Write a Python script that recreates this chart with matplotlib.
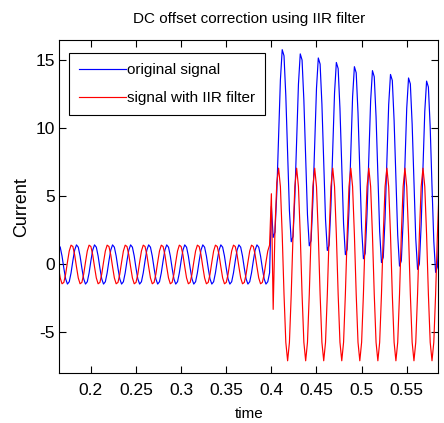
import numpy as np
import matplotlib.pyplot as plt

plt.rcParams['font.family'] = ['Liberation Sans', 'DejaVu Sans']
plt.rcParams['axes.unicode_minus'] = False

# sampling of the recorded current (s)
t_start = 0.164
t_step = 0.002

# original signal before the fault (steady 50 Hz)
orig_before = [
    1.44, 1.27, 0.62, -0.27, -1.06, -1.44, -1.27, -0.62, 0.27, 1.06,
    1.44, 1.27, 0.62, -0.27, -1.06, -1.44, -1.27, -0.62, 0.27, 1.06,
    1.44, 1.27, 0.62, -0.27, -1.06, -1.44, -1.27, -0.62, 0.27, 1.06,
    1.44, 1.27, 0.62, -0.27, -1.06, -1.44, -1.27, -0.62, 0.27, 1.06,
    1.44, 1.27, 0.62, -0.27, -1.06, -1.44, -1.27, -0.62, 0.27, 1.06,
    1.44, 1.27, 0.62, -0.27, -1.06, -1.44, -1.27, -0.62, 0.27, 1.06,
    1.44, 1.27, 0.62, -0.27, -1.06, -1.44, -1.27, -0.62, 0.27, 1.06,
    1.44, 1.27, 0.62, -0.27, -1.06, -1.44, -1.27, -0.62, 0.27, 1.06,
    1.44, 1.27, 0.62, -0.27, -1.06, -1.44, -1.27, -0.62, 0.27, 1.06,
    1.44, 1.27, 0.62, -0.27, -1.06, -1.44, -1.27, -0.62, 0.27, 1.06,
    1.44, 1.27, 0.62, -0.27, -1.06, -1.44, -1.27, -0.62, 0.27, 1.06,
    1.44, 1.27, 0.62, -0.27, -1.06, -1.44, -1.27, -0.62,
]
# original signal after the fault at t = 0.4 (decaying dc offset)
orig_after = [
    4.27, 1.99, 2.38, 5.27, 9.54, 13.57, 15.79, 15.34, 12.39, 8.05,
    3.95, 1.67, 2.06, 4.95, 9.23, 13.26, 15.48, 15.03, 12.08, 7.74,
    3.65, 1.37, 1.76, 4.65, 8.93, 12.96, 15.18, 14.73, 11.79, 7.45,
    3.31, 1.03, 1.42, 4.31, 8.59, 12.62, 14.85, 14.40, 11.45, 7.11,
    2.99, 0.72, 1.11, 4.00, 8.28, 12.32, 14.54, 14.09, 11.14, 6.81,
    2.70, 0.42, 0.82, 3.71, 7.99, 12.03, 14.25, 13.80, 10.86, 6.52,
    2.42, 0.14, 0.53, 3.43, 7.71, 11.75, 13.97, 13.53, 10.58, 6.25,
    2.15, -0.12, 0.27, 3.17, 7.45, 11.49, 13.71, 13.27, 10.32, 5.99,
    1.91, -0.36, 0.04, 2.93, 7.22, 11.26, 13.48, 13.04, 10.09, 5.76,
    1.70, -0.58, -0.18, 2.72,
]

# signal after the IIR filter
filt_before = [
    -0.17, -0.99, -1.42, -1.32, -0.71, 0.17, 0.99, 1.42, 1.32, 0.71,
    -0.17, -0.99, -1.42, -1.32, -0.71, 0.17, 0.99, 1.42, 1.32, 0.71,
    -0.17, -0.99, -1.42, -1.32, -0.71, 0.17, 0.99, 1.42, 1.32, 0.71,
    -0.17, -0.99, -1.42, -1.32, -0.71, 0.17, 0.99, 1.42, 1.32, 0.71,
    -0.17, -0.99, -1.42, -1.32, -0.71, 0.17, 0.99, 1.42, 1.32, 0.71,
    -0.17, -0.99, -1.42, -1.32, -0.71, 0.17, 0.99, 1.42, 1.32, 0.71,
    -0.17, -0.99, -1.42, -1.32, -0.71, 0.17, 0.99, 1.42, 1.32, 0.71,
    -0.17, -0.99, -1.42, -1.32, -0.71, 0.17, 0.99, 1.42, 1.32, 0.71,
    -0.17, -0.99, -1.42, -1.32, -0.71, 0.17, 0.99, 1.42, 1.32, 0.71,
    -0.17, -0.99, -1.42, -1.32, -0.71, 0.17, 0.99, 1.42, 1.32, 0.71,
    -0.17, -0.99, -1.42, -1.32, -0.71, 0.17, 0.99, 1.42, 1.32, 0.71,
    -0.17, -0.99, -1.42, -1.32, -0.71, 0.17, 0.99, 1.42,
]
filt_after = [
    5.2, -3.3, 2.6, 6.0, 7.08, 5.72, 2.19, -2.19, -5.72, -7.08,
    -5.72, -2.19, 2.19, 5.72, 7.08, 5.72, 2.19, -2.19, -5.72, -7.08,
    -5.72, -2.19, 2.19, 5.72, 7.08, 5.72, 2.19, -2.19, -5.72, -7.08,
    -5.72, -2.19, 2.19, 5.72, 7.08, 5.72, 2.19, -2.19, -5.72, -7.08,
    -5.72, -2.19, 2.19, 5.72, 7.08, 5.72, 2.19, -2.19, -5.72, -7.08,
    -5.72, -2.19, 2.19, 5.72, 7.08, 5.72, 2.19, -2.19, -5.72, -7.08,
    -5.72, -2.19, 2.19, 5.72, 7.08, 5.72, 2.19, -2.19, -5.72, -7.08,
    -5.72, -2.19, 2.19, 5.72, 7.08, 5.72, 2.19, -2.19, -5.72, -7.08,
    -5.72, -2.19, 2.19, 5.72, 7.08, 5.72, 2.19, -2.19, -5.72, -7.08,
    -5.72, -2.19, 2.19, 5.72,
]

x_ticks = [0.2, 0.25, 0.3, 0.35, 0.4, 0.45, 0.5, 0.55]
x_tick_labels = ['0.2', '0.25', '0.3', '0.35', '0.4', '0.45', '0.5', '0.55']
y_ticks = [-5, 0, 5, 10, 15]

original = np.array(orig_before + orig_after)
filtered = np.array(filt_before + filt_after)
time = t_start + t_step * np.arange(len(original))

fig, ax = plt.subplots(figsize=(4.44, 4.23), dpi=100)
fig.subplots_adjust(left=0.1336, right=0.9872, bottom=0.1175, top=0.9054)

ax.plot(time, original, color='b', lw=0.85, label='original signal')
ax.plot(time, filtered, color='r', lw=0.85, label='signal with IIR filter')

ax.set_xlim(0.165, 0.585)
ax.set_ylim(-8, 16.5)
ax.set_xticks(x_ticks)
ax.set_xticklabels(x_tick_labels)
ax.set_yticks(y_ticks)

ax.tick_params(direction='in', top=True, right=True, length=5, width=0.8,
               labelsize=12.5)
ax.tick_params(axis='x', pad=7)
ax.tick_params(axis='y', pad=3)
for sp in ax.spines.values():
    sp.set_linewidth(0.8)

ax.set_title('DC offset correction using IIR filter', fontsize=11, pad=12)
ax.set_xlabel('time', fontsize=11, labelpad=6.5)
ax.set_ylabel('Current', fontsize=13, labelpad=4)

leg = ax.legend(loc='upper left', bbox_to_anchor=(0.0264, 0.96),
                borderaxespad=0, fontsize=11, handlelength=3.05,
                handletextpad=0.1, labelspacing=0.9, borderpad=0.65,
                fancybox=False, framealpha=1)
leg.get_frame().set_edgecolor('black')
leg.get_frame().set_linewidth(0.8)

fig.savefig('out.png', dpi=100)
